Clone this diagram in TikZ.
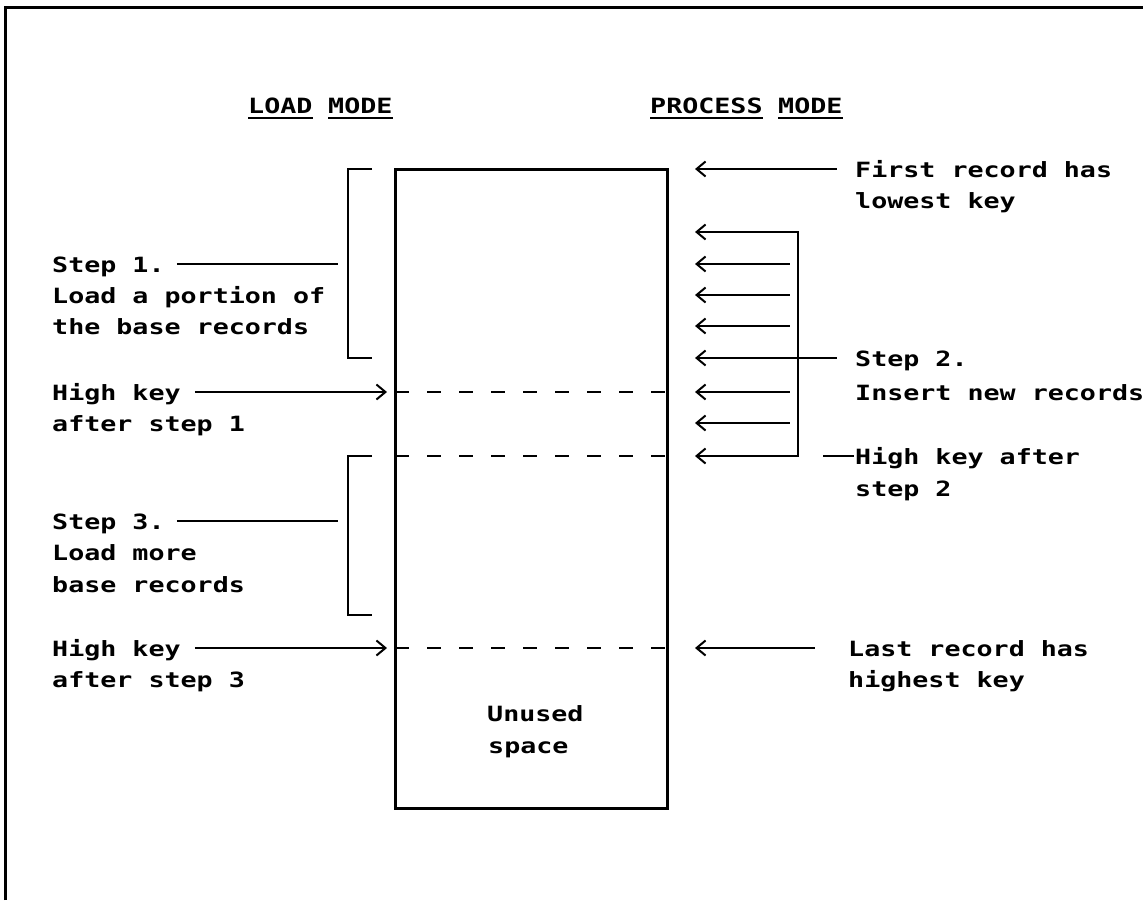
\documentclass[tikz,border=0pt]{standalone}
\usepackage{fontspec}
\usetikzlibrary{arrows.meta}
\newfontfamily\tf[FakeStretch=1.27]{DejaVu Sans Mono Bold}
\begin{document}
\begin{tikzpicture}[x=1pt,y=-1pt,
  txt/.style={anchor=base west, inner sep=0pt, font=\tf\fontsize{21}{31}\selectfont},
  ln/.style={line width=2pt},
  barb/.tip={Straight Barb[length=9pt,width=15pt,line width=2pt]},
  rarr/.style={ln,-barb},
  larr/.style={ln,barb-},
  barbboth/.style={ln,barb-barb},
  dash line/.style={line width=2pt, dash pattern=on 14pt off 18pt},
  uline/.style={line width=2.5pt}]
\useasboundingbox (0,0) rectangle (1143,900);
% frame
\draw[line width=3pt] (5,900) -- (5,7) -- (1145,7);

% headers
\node[txt] (lm1) at (248,113) {LOAD};
\node[txt] (lm2) at (328,113) {MODE};
\node[txt] (pm1) at (650,113) {PROCESS};
\node[txt] (pm2) at (778,113) {MODE};
\foreach \n in {lm1,lm2,pm1,pm2}{
  \draw[uline] ([yshift=-5pt]\n.base west) -- ([yshift=-5pt]\n.base east);
}

% memory box
\node[draw, line width=3pt, minimum width=272pt, minimum height=639pt, inner sep=0pt] (mem) at (531,488.5) {};
\coordinate (d1) at (395,392);
\coordinate (d2) at (395,456);
\coordinate (d3) at (395,648);
\foreach \d in {d1,d2,d3}{
  \draw[dash line] (\d) -- (\d -| mem.east);
}
\node[txt] (u1) at (487,721) {Unused};
\node[txt] (u2) at (488,753) {space};

% left texts
\node[txt] (s1a) at (52,272) {Step 1.};
\node[txt] (s1b) at (52,303) {Load a portion of};
\node[txt] (s1c) at (52,334) {the base records};
\node[txt] (h1a) at (52,400) {High key};
\node[txt] (h1b) at (52,431) {after step 1};
\node[txt] (s3a) at (52,529) {Step 3.};
\node[txt] (s3b) at (52,560) {Load more};
\node[txt] (s3c) at (52,592) {base records};
\node[txt] (h3a) at (52,656) {High key};
\node[txt] (h3b) at (52,687) {after step 3};

% left brackets
\coordinate (b1t) at (372,169);
\coordinate (b1b) at (372,358);
\coordinate (b1m) at (338,264);
\draw[ln] (b1t) -- (348,169) -- (348,358) -- (b1b);
\draw[ln] ([shift={(12,-8)}]s1a.base east) -- (b1m);
\coordinate (b3t) at (372,456);
\coordinate (b3b) at (372,615);
\coordinate (b3m) at (338,521);
\draw[ln] (b3t) -- (348,456) -- (348,615) -- (b3b);
\draw[ln] ([shift={(12,-8)}]s3a.base east) -- (b3m);

% left arrows to the box
\draw[rarr] ([shift={(14,-8)}]h1a.base east) -- ([xshift=-8pt]d1);
\draw[rarr] ([shift={(14,-8)}]h3a.base east) -- ([xshift=-8pt]d3);

% right texts
\node[txt] (fr1) at (855,177) {First record has};
\node[txt] (fr2) at (855,208) {lowest key};
\node[txt] (st2a) at (855,366) {Step 2.};
\node[txt] (st2b) at (855,400) {Insert new records};
\node[txt] (hk2a) at (855,464) {High key after};
\node[txt] (hk2b) at (855,496) {step 2};
\node[txt] (lr1) at (848,656) {Last record has};
\node[txt] (lr2) at (848,687) {highest key};

% right arrows
\draw[larr] (695,169) -- ([shift={(-18,-8)}]fr1.base west);
\draw[barbboth] (695,232) -- (798,232) -- (798,456) -- (695,456);
\foreach \yy in {264,295,326,392,423}{
  \draw[larr] (695,\yy) -- (790,\yy);
}
\draw[larr] (695,358) -- ([shift={(-18,-8)}]st2a.base west);
\draw[ln] (823,456) -- ([shift={(-1,-8)}]hk2a.base west);
\draw[larr] (695,648) -- ([shift={(-33,-8)}]lr1.base west);
\end{tikzpicture}
\end{document}
